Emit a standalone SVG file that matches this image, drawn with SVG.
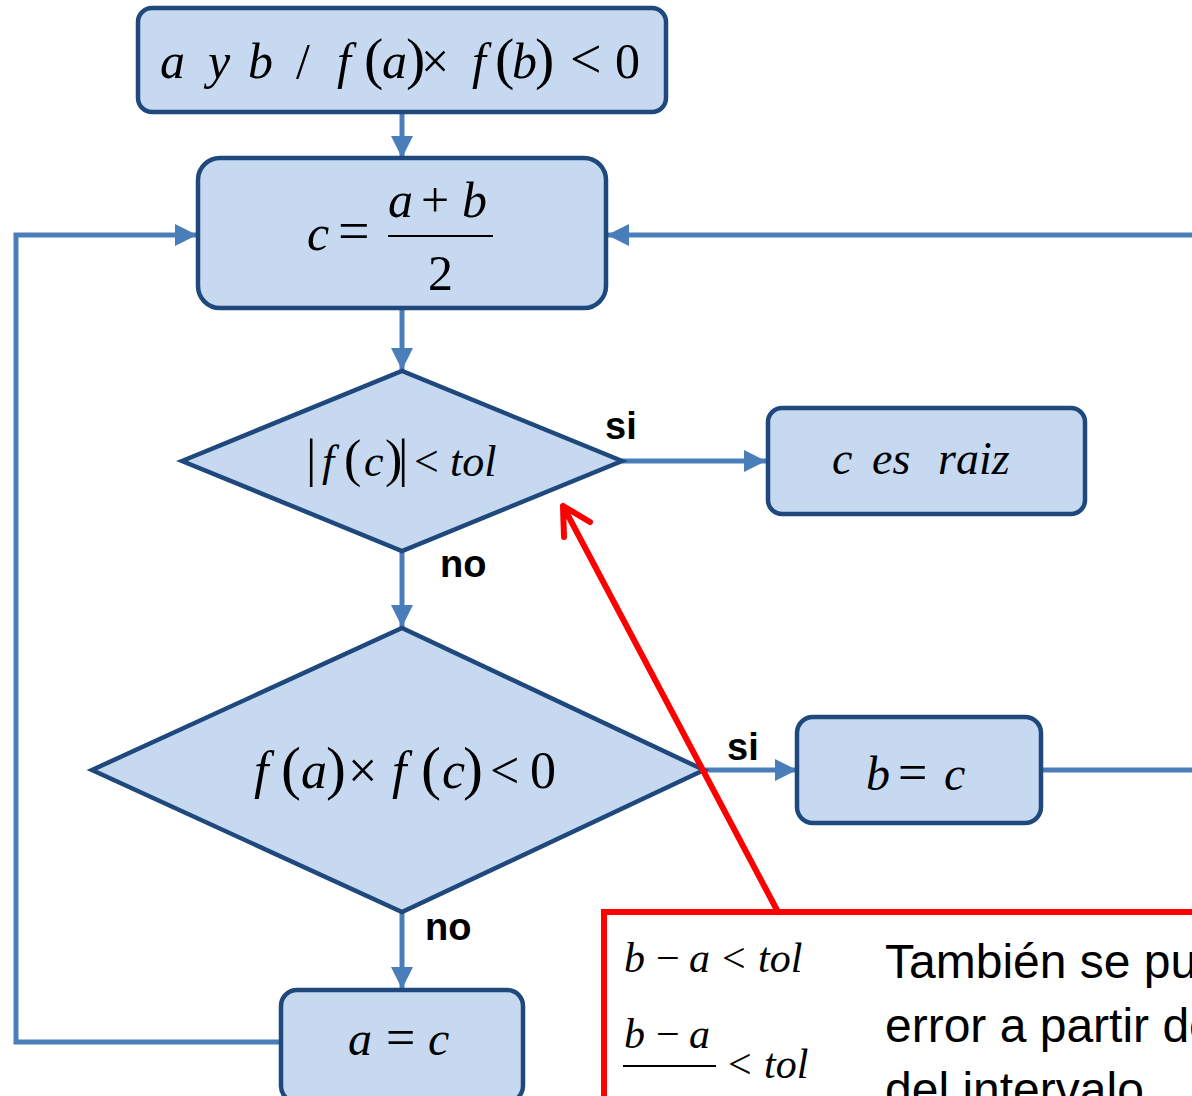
<svg xmlns="http://www.w3.org/2000/svg" width="1192" height="1096" viewBox="0 0 1192 1096">
<style>
.node{fill:#C6D9F1;stroke:#1F497D;stroke-width:4.5}
.conn{fill:none;stroke:#4A7EBB;stroke-width:5}
.m{font-family:"Liberation Serif","Times New Roman",serif;font-style:italic;fill:#000}
.n{font-style:normal}
.lbl{font-family:"Liberation Sans",Arial,sans-serif;font-weight:bold;font-size:38px;fill:#000}
.body{font-family:"Liberation Sans",Arial,sans-serif;font-size:48px;fill:#000}
</style>
<defs>
<marker id="ah" markerUnits="userSpaceOnUse" markerWidth="22" markerHeight="22" refX="22" refY="11" orient="auto">
<path d="M0,0 L22,11 L0,22 z" fill="#4A7EBB"/>
</marker>
</defs>
<g id="connectors">
<line class="conn" x1="402" y1="112" x2="402" y2="158" marker-end="url(#ah)"/>
<line class="conn" x1="402" y1="308" x2="402" y2="370" marker-end="url(#ah)"/>
<line class="conn" x1="622" y1="461" x2="766" y2="461" marker-end="url(#ah)"/>
<line class="conn" x1="402" y1="551" x2="402" y2="627" marker-end="url(#ah)"/>
<line class="conn" x1="704" y1="770" x2="797" y2="770" marker-end="url(#ah)"/>
<line class="conn" x1="402" y1="912" x2="402" y2="989" marker-end="url(#ah)"/>
<path class="conn" d="M1041,770 L1200,770"/>
<path class="conn" d="M1200,235 L607,235" marker-end="url(#ah)"/>
<path class="conn" d="M281,1042 L16,1042 L16,235 L197,235" marker-end="url(#ah)"/>
<text class="lbl" x="605" y="439">si</text>
<text class="lbl" x="440" y="577">no</text>
<text class="lbl" x="727" y="760">si</text>
<text class="lbl" x="425" y="940">no</text>
</g>
<g id="start">
<rect class="node" x="138" y="8" width="528" height="104" rx="14"/>
<text class="m" font-size="50" y="78"><tspan x="160">a</tspan><tspan x="208">y</tspan><tspan x="248">b</tspan><tspan class="n" x="296">/</tspan><tspan x="337">f</tspan><tspan class="n" x="364" font-size="58">(</tspan><tspan x="382">a</tspan><tspan class="n" x="406" font-size="58">)</tspan><tspan class="n" x="421">×</tspan><tspan x="472">f</tspan><tspan class="n" x="495" font-size="58">(</tspan><tspan x="512">b</tspan><tspan class="n" x="535" font-size="58">)</tspan><tspan class="n" x="570" font-size="56">&lt;</tspan><tspan class="n" x="615">0</tspan></text>
</g>
<g id="midpoint">
<rect class="node" x="198" y="158" width="408" height="150" rx="22"/>
<text class="m" font-size="50" y="250"><tspan x="307">c</tspan><tspan class="n" x="338" font-size="56">=</tspan></text>
<text class="m" font-size="50" y="217"><tspan x="388">a</tspan><tspan class="n" x="421">+</tspan><tspan x="462">b</tspan></text>
<line x1="388" y1="236" x2="493" y2="236" stroke="#000" stroke-width="2"/>
<text class="m n" font-size="50" x="428" y="290">2</text>
</g>
<g id="check-tol">
<polygon class="node" points="182,461 402,371 622,461 402,551"/>
<text class="m" font-size="44" y="476"><tspan class="n" x="306" font-size="52">|</tspan><tspan x="322">f</tspan><tspan class="n" x="344" font-size="52">(</tspan><tspan x="364">c</tspan><tspan class="n" x="385" font-size="52">)</tspan><tspan class="n" x="398" font-size="52">|</tspan><tspan class="n" x="414">&lt;</tspan><tspan x="450">tol</tspan></text>
</g>
<g id="root">
<rect class="node" x="768" y="408" width="317" height="106" rx="14"/>
<text class="m" font-size="46" y="474"><tspan x="832">c</tspan><tspan x="872">es</tspan><tspan x="938">raiz</tspan></text>
</g>
<g id="check-sign">
<polygon class="node" points="92,770 402,628 704,770 402,912"/>
<text class="m" font-size="52" y="788"><tspan x="254">f</tspan><tspan class="n" x="281" font-size="60">(</tspan><tspan x="301">a</tspan><tspan class="n" x="326" font-size="60">)</tspan><tspan class="n" x="348">×</tspan><tspan x="392">f</tspan><tspan class="n" x="421" font-size="60">(</tspan><tspan x="442">c</tspan><tspan class="n" x="463" font-size="60">)</tspan><tspan class="n" x="490">&lt;</tspan><tspan class="n" x="530">0</tspan></text>
</g>
<g id="set-b">
<rect class="node" x="797" y="717" width="244" height="106" rx="16"/>
<text class="m" font-size="48" y="790"><tspan x="866">b</tspan><tspan class="n" x="898" font-size="52">=</tspan><tspan x="944">c</tspan></text>
</g>
<g id="set-a">
<rect class="node" x="281" y="990" width="242" height="112" rx="16"/>
<text class="m" font-size="48" y="1055"><tspan x="348">a</tspan><tspan class="n" x="386" font-size="52">=</tspan><tspan x="428">c</tspan></text>
</g>
<g id="note">
<path d="M778,912 L563,506 M564,537 L563,506 L590,522" fill="none" stroke="#FF0000" stroke-width="6" stroke-linecap="round" stroke-linejoin="round"/>
<rect x="604" y="912" width="700" height="300" fill="none" stroke="#FF0000" stroke-width="6"/>
<text class="m" font-size="42" y="972"><tspan x="624">b</tspan><tspan class="n" x="656">−</tspan><tspan x="689">a</tspan><tspan class="n" x="722">&lt;</tspan><tspan x="758">tol</tspan></text>
<text class="m" font-size="42" y="1048"><tspan x="624">b</tspan><tspan class="n" x="656">−</tspan><tspan x="689">a</tspan></text>
<line x1="623" y1="1066" x2="716" y2="1066" stroke="#000" stroke-width="2"/>
<text class="m" font-size="42" y="1078"><tspan class="n" x="728">&lt;</tspan><tspan x="764">tol</tspan></text>
<text class="body" x="885" y="978">También se puede</text>
<text class="body" x="885" y="1042">error a partir del</text>
<text class="body" x="885" y="1106">del intervalo</text>
</g>
</svg>
